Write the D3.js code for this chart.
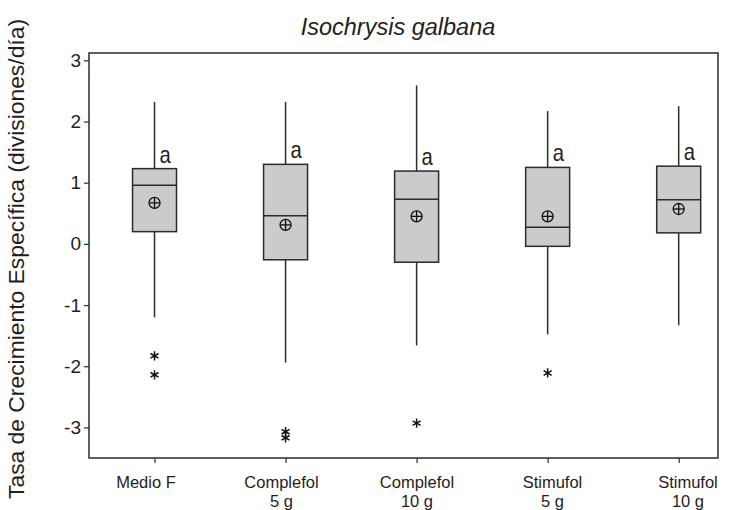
<!DOCTYPE html>
<html>
<head>
<meta charset="utf-8">
<script src="https://cdn.jsdelivr.net/npm/d3@7"></script>
<style>
  body { margin: 0; background: #fff; }
  svg { display: block; font-family: "Liberation Sans", Arial, sans-serif; }
</style>
</head>
<body>
<script>
// data
const categories = [["Medio F"], ["Complefol", "5 g"], ["Complefol", "10 g"], ["Stimufol", "5 g"], ["Stimufol", "10 g"]];
const q1 = [0.20, -0.26, -0.30, -0.04, 0.18];
const medians = [0.96, 0.46, 0.73, 0.27, 0.72];
const q3 = [1.23, 1.30, 1.19, 1.25, 1.27];
const whiskerLow = [-1.20, -1.94, -1.66, -1.48, -1.33];
const whiskerHigh = [2.32, 2.32, 2.59, 2.17, 2.25];
const means = [0.67, 0.31, 0.45, 0.45, 0.57];
const outliers = [[-1.83, -2.14], [-3.07, -3.17], [-2.93], [-2.11], []];
const letters = ["a", "a", "a", "a", "a"];
const yTicks = [-3, -2, -1, 0, 1, 2, 3];

const width = 736, height = 510;
const plot = { left: 89, right: 718, top: 53, bottom: 458 };
const boxWidth = 44;
const ink = "#2b2b2b";
const textColor = "#1e1e1e";

const svg = d3.select("body").append("svg")
    .attr("width", width)
    .attr("height", height);

//Scales
const x = d3.scaleLinear()
    .domain([-0.5, 4.3])
    .range([plot.left, plot.right]);
// labels in the figure sit a little off their ticks
const xLabel = d3.scaleLinear()
    .domain([0, 4])
    .range([146, 688]);
const y = d3.scaleLinear()
    .domain([-3.5, 3.12])
    .range([plot.bottom, plot.top]);

//Frame
svg.append("rect")
    .attr("x", plot.left)
    .attr("y", plot.top)
    .attr("width", plot.right - plot.left)
    .attr("height", plot.bottom - plot.top)
    .attr("fill", "none")
    .attr("stroke", ink)
    .attr("stroke-width", 1.5);

//Axis y
const yAxis = d3.axisLeft(y)
    .tickValues(yTicks)
    .tickSize(5)
    .tickPadding(3)
    .tickFormat(d => String(d));
const gy = svg.append("g")
    .attr("transform", "translate(" + plot.left + ",0)")
    .call(yAxis);
gy.select(".domain").remove();
gy.selectAll("line").attr("stroke", ink).attr("stroke-width", 1.2);
gy.selectAll("text").attr("font-size", 19).attr("fill", textColor).attr("font-family", null);

//Axis x
const xAxis = d3.axisBottom(x)
    .tickValues(d3.range(categories.length))
    .tickSize(5)
    .tickFormat("");
const gx = svg.append("g")
    .attr("transform", "translate(0," + plot.bottom + ")")
    .call(xAxis);
gx.select(".domain").remove();
gx.selectAll("line").attr("stroke", ink).attr("stroke-width", 1.2);

svg.append("g")
    .selectAll("text")
    .data(categories)
    .join("text")
    .attr("x", (d, i) => xLabel(i))
    .attr("y", 488)
    .attr("text-anchor", "middle")
    .attr("font-size", 16.5)
    .attr("fill", textColor)
    .selectAll("tspan")
    .data(d => d)
    .join("tspan")
    .attr("x", function () { return d3.select(this.parentNode).attr("x"); })
    .attr("dy", (d, i) => i ? 19 : 0)
    .text(d => d);

//Boxes
const boxes = svg.append("g")
    .selectAll("g")
    .data(categories)
    .join("g");

boxes.append("line")
    .attr("x1", (d, i) => x(i))
    .attr("x2", (d, i) => x(i))
    .attr("y1", (d, i) => y(whiskerHigh[i]))
    .attr("y2", (d, i) => y(q3[i]))
    .attr("stroke", ink)
    .attr("stroke-width", 1.5);
boxes.append("line")
    .attr("x1", (d, i) => x(i))
    .attr("x2", (d, i) => x(i))
    .attr("y1", (d, i) => y(q1[i]))
    .attr("y2", (d, i) => y(whiskerLow[i]))
    .attr("stroke", ink)
    .attr("stroke-width", 1.5);
boxes.append("rect")
    .attr("x", (d, i) => x(i) - boxWidth / 2)
    .attr("y", (d, i) => y(q3[i]))
    .attr("width", boxWidth)
    .attr("height", (d, i) => y(q1[i]) - y(q3[i]))
    .attr("fill", "#cacbcb")
    .attr("stroke", ink)
    .attr("stroke-width", 1.5);
boxes.append("line")
    .attr("x1", (d, i) => x(i) - boxWidth / 2)
    .attr("x2", (d, i) => x(i) + boxWidth / 2)
    .attr("y1", (d, i) => y(medians[i]))
    .attr("y2", (d, i) => y(medians[i]))
    .attr("stroke", ink)
    .attr("stroke-width", 1.5);

//Mean symbol: circle with cross
const r = 5.5;
const meanG = boxes.append("g")
    .attr("transform", (d, i) => "translate(" + x(i) + "," + y(means[i]) + ")")
    .attr("stroke", "#111")
    .attr("stroke-width", 1.3)
    .attr("fill", "none");
meanG.append("circle").attr("r", r);
meanG.append("line").attr("x1", -r).attr("x2", r);
meanG.append("line").attr("y1", -r).attr("y2", r);

//Letters
boxes.append("text")
    .attr("x", (d, i) => x(i) + 5)
    .attr("y", (d, i) => y(q3[i]) - 6)
    .attr("font-size", 23)
    .attr("fill", textColor)
    .attr("transform", (d, i) => "translate(" + (x(i) + 5) * 0.12 + ",0) scale(0.88,1)")
    .text((d, i) => letters[i]);

//Outliers
const star = d3.symbol().type(d3.symbolAsterisk).size(60);
boxes.selectAll("path")
    .data((d, i) => outliers[i].map(v => ({ i, v })))
    .join("path")
    .attr("d", star)
    .attr("transform", d => "translate(" + x(d.i) + "," + y(d.v) + ")")
    .attr("stroke", "#111")
    .attr("stroke-width", 1.5)
    .attr("fill", "none");

//Title
svg.append("text")
    .attr("x", 398)
    .attr("y", 35)
    .attr("text-anchor", "middle")
    .attr("font-size", 23.5)
    .attr("font-style", "italic")
    .attr("fill", textColor)
    .text("Isochrysis galbana");

//Y label
svg.append("text")
    .attr("transform", "translate(24," + 259 + ") rotate(-90)")
    .attr("text-anchor", "middle")
    .attr("font-size", 21.5)
    .attr("textLength", 480)
    .attr("lengthAdjust", "spacingAndGlyphs")
    .attr("fill", textColor)
    .text("Tasa de Crecimiento Específica (divisiones/día)");
</script>
</body>
</html>
